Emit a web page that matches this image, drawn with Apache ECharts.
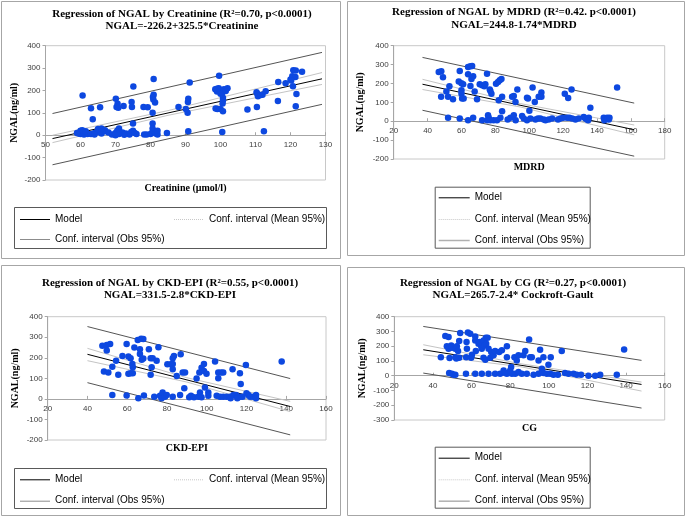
<!DOCTYPE html>
<html><head><meta charset="utf-8">
<script src="https://cdn.jsdelivr.net/npm/echarts@6/dist/echarts.min.js"></script>
<style>html,body{margin:0;padding:0;background:#fff}#c{width:685px;height:516px}</style>
</head><body><div id="c"></div>
<script>
// ---- Data ----
const titles = [
  "Regression of NGAL by Creatinine (R²=0.70, p<0.0001)\nNGAL=-226.2+325.5*Creatinine",
  "Regression of NGAL by MDRD (R²=0.42. p<0.0001)\nNGAL=244.8-1.74*MDRD",
  "Regression of NGAL by CKD-EPI (R²=0.55, p<0.0001)\nNGAL=331.5-2.8*CKD-EPI",
  "Regression of NGAL by CG (R²=0.27, p<0.0001)\nNGAL=265.7-2.4* Cockroft-Gault"
];
const xNames = ["Creatinine (µmol/l)", "MDRD", "CKD-EPI", "CG"];
const yName = "NGAL(ng/ml)";
const xRanges = [[50,130,10],[20,180,20],[20,160,20],[20,160,20]];
const yRanges = [[-200,400,100],[-200,400,100],[-200,400,100],[-300,400,100]];
const legendNames = ["Model","Conf. interval (Mean 95%)","Conf. interval (Obs 95%)"];

const creatPoints = [[60.6,178],[60,5],[60,10],[60,15],[60,20],[59.5,8],[61,3],[61,12],[62,5],[59,10],[60.5,22],[61.5,18],[63,120],[63.5,71],[65.6,125],[63,5],[64,10],[65,15],[65,20],[66,25],[66,8],[67,18],[67,22],[68,12],[64,3],[65,28],[66,30],[70.1,163],[70.6,141],[70.3,126],[70.8,123],[72.3,131],[74.6,149],[74.7,126],[75.1,218],[75,52],[69,3],[70,10],[70.5,20],[71,30],[71,5],[72,12],[73,8],[74,3],[74.5,15],[75,20],[75.5,10],[76,5],[70,0],[72.5,2],[78,126],[79.2,125],[78.2,3],[78.9,3],[80.9,251],[80.7,171],[80.9,181],[80.8,160],[81.3,146],[80.6,100],[80.6,52],[80.6,30],[80,5],[80.5,12],[81,18],[81.5,8],[82,3],[82,20],[84.7,10],[88,126],[90.1,117],[90.6,100],[90.7,149],[90.8,163],[91.2,236],[90.8,18],[99.6,266],[98.5,205],[99,195],[99.5,210],[100,200],[100.5,190],[101,205],[101.5,198],[102,210],[100,185],[99,208],[99.1,117],[100,117],[98.6,119],[100.7,167],[100.7,155],[100.6,142],[100.7,107],[100.5,15],[107.7,115],[110.3,192],[110.7,174],[110.5,185],[111.5,180],[112,181],[110.4,126],[112.9,196],[112.4,18],[116.5,238],[116.4,153],[118.6,232],[120,249],[120.5,263],[120.8,290],[121.5,289],[121.4,260],[120.7,219],[121.7,184],[121.5,129],[123.3,284],[120.2,245]];
const creatModel = [[52,-15],[129,252]];
const creatMeanUp = [[52,0],[85,110],[129,280]];
const creatMeanLo = [[52,-33],[85,89],[129,227]];
const creatObsUp = [[52,97],[129,370]];
const creatObsLo = [[52,-132],[129,138]];

const mdrdPoints = [[46.6,261],[48.1,265],[49.1,233],[48,129],[51.1,157],[52.9,185],[52.1,129],[52.1,19],[55,116],[59,266],[58.4,210],[60,201],[61,196],[60,164],[60,146],[60.4,120],[61.3,120],[59,14],[63.9,287],[65.3,291],[66.3,293],[63.9,249],[65.9,224],[66.9,238],[65.3,187],[63.9,5],[66.9,19],[67.8,157],[69.2,116],[70.8,196],[72.2,190],[73.5,185],[74.1,196],[75.1,252],[76.7,168],[77.1,160],[77.7,146],[72.2,5],[75.7,32],[76.1,18],[75.3,5],[77.1,5],[79,5],[80.4,199],[81.6,208],[82.6,217],[83.6,224],[82,111],[84,129],[84,53],[83,19],[81,5],[87.3,9],[88.9,19],[89.9,129],[90.9,134],[91.9,102],[93,168],[90.9,32],[92,5],[95.8,28],[96.8,14],[98.7,125],[99.3,120],[100.1,55],[102,178],[103.3,102],[98.7,5],[100.7,14],[103.7,9],[105.6,129],[107.2,152],[107.2,129],[105.2,14],[106.6,14],[108.6,9],[109.6,5],[111.5,9],[113.5,14],[121,145],[123,123],[125,168],[122.4,19],[123.7,19],[125.3,14],[117,9],[118.4,14],[120,19],[127.3,9],[129.2,14],[132.2,23],[133.2,14],[134.2,9],[136.1,72],[135.2,19],[134.8,5],[144,19],[145,14],[146,19],[147,9],[144.4,5],[146.5,14],[147.4,19],[151.9,178]];
const mdrdModel = [[37,196],[162,-45]];
const mdrdMeanUp = [[37,222],[95,93],[162,-20]];
const mdrdMeanLo = [[37,168],[95,75],[162,-72]];
const mdrdObsUp = [[37,338],[162,96]];
const mdrdObsLo = [[37,58],[162,-185]];

const ckdPoints = [[47.5,259],[49.7,262],[51.4,267],[49.7,235],[48.3,133],[50.5,128],[52.5,157],[54.4,186],[55.5,117],[52.5,19],[57.6,209],[59.7,267],[60.6,206],[61.7,198],[62.6,170],[62.8,154],[60.6,122],[61.7,125],[62.8,125],[59.7,16],[63.6,250],[65.3,287],[67,293],[68.1,292],[66.4,241],[66.4,219],[67.3,190],[68.1,196],[70.9,241],[71.8,198],[72.3,154],[71.8,117],[72.8,198],[74.8,186],[75.7,251],[65.6,3],[68.4,16],[73.6,11],[76.5,15],[77.3,3],[77.8,31],[79,11],[79.9,19],[80.2,169],[81.9,169],[82.9,198],[83.5,209],[82.9,170],[82.9,144],[84.9,112],[86.9,217],[87.9,128],[89.1,128],[88.7,52],[86.6,19],[82.9,11],[91.2,8],[92.1,15],[93.6,8],[94.9,99],[96.3,128],[97.4,152],[98.6,170],[98.6,136],[99.9,122],[99.1,55],[95.8,11],[96.6,31],[97.4,8],[100.8,31],[100.8,15],[104.2,182],[105.8,128],[105.8,100],[107.2,128],[108.3,128],[105,15],[106.7,11],[108.3,11],[110,11],[111.7,11],[113,144],[113.4,19],[114.7,19],[115.4,11],[116.7,125],[117.1,73],[116.7,11],[118,11],[119.7,165],[120,28],[121,19],[121.8,11],[123.4,11],[124.8,19],[124.8,3],[115.4,3],[112,3],[137.7,182]];
const ckdModel = [[40,217],[142,-37]];
const ckdMeanUp = [[40,246],[90,103],[142,-12]];
const ckdMeanLo = [[40,186],[90,82],[142,-62]];
const ckdObsUp = [[40,352],[142,99]];
const ckdObsLo = [[40,79],[142,-175]];

const cgPoints = [[44.1,126],[47.2,199],[48.1,262],[46.4,269],[48.1,183],[48.6,120],[49.5,205],[49.8,190],[51.6,183],[52.4,199],[53,167],[52.1,117],[53.6,122],[51.6,126],[54.1,289],[53.6,235],[50.7,7],[48.4,18],[49.8,14],[51.6,7],[57.4,228],[57.6,183],[57.2,126],[58.1,293],[59.3,284],[60.2,142],[59.8,122],[61.9,239],[61.9,266],[62.2,167],[63.6,217],[65,199],[64.1,228],[65.3,183],[66.2,239],[66.7,205],[67.6,217],[66.2,122],[67.1,108],[67.4,257],[68.3,257],[68.8,183],[69.7,122],[70.2,160],[71.4,138],[72.2,167],[74.3,160],[75.7,172],[78.3,199],[78.3,126],[57.1,14],[61.9,14],[65.3,14],[68.8,14],[72.2,14],[74.8,14],[76.6,36],[78.3,14],[77.4,18],[80.5,59],[80,36],[82.2,126],[83.4,104],[84.3,138],[86.9,138],[87.8,167],[89.8,246],[90.3,126],[91.2,126],[94.7,104],[95.5,176],[96.4,47],[97.2,126],[99.8,74],[101,126],[106.7,167],[80.9,14],[82.6,14],[84.3,25],[86,14],[88.6,14],[92.1,7],[94.7,14],[97.2,18],[99,14],[100.7,14],[102.4,7],[104.7,7],[108.4,18],[110.2,14],[112.8,14],[114.5,7],[116.7,7],[120.5,0],[124,0],[126.6,7],[135.2,7],[139,178]];
const cgModel = [[35,176],[148,-59]];
const cgMeanUp = [[35,210],[85,82],[148,-43]];
const cgMeanLo = [[35,142],[85,62],[148,-104]];
const cgObsUp = [[35,334],[148,104]];
const cgObsLo = [[35,18],[148,-219]];

const panelPoints = [creatPoints, mdrdPoints, ckdPoints, cgPoints];
const panelLines = [
  [creatModel, creatMeanUp, creatMeanLo, creatObsUp, creatObsLo],
  [mdrdModel, mdrdMeanUp, mdrdMeanLo, mdrdObsUp, mdrdObsLo],
  [ckdModel, ckdMeanUp, ckdMeanLo, ckdObsUp, ckdObsLo],
  [cgModel, cgMeanUp, cgMeanLo, cgObsUp, cgObsLo]
];

// ---- Layout ----
const grids = [
  {left:45.5, top:45.7, width:280, height:134.3},
  {left:393.7, top:45.7, width:271, height:113.3},
  {left:47.7, top:316.7, width:278.3, height:123.3},
  {left:394.3, top:316.7, width:270.4, height:103.3}
];
const titlePos = [[182,8],[514,6],[170,277],[513,277]];
const titleLH = [12,13,12,12];
const xNameGap = [48,41,45,48];
const yNameGap = [26,28,27,27];
const panels = [[1,1,339,257],[347,1,337,254],[1,265,339,250],[347,267,337,248]];

const serif = "'Liberation Serif','Times New Roman',serif";
const sans = "'Liberation Sans',Arial,sans-serif";
const blue = '#0d48e0';
const lineStyles = [
  {color:'#000000', width:1},
  {color:'#c4c4c4', width:1},
  {color:'#c4c4c4', width:1},
  {color:'#555555', width:1},
  {color:'#555555', width:1}
];

// x axis sits at value 0 of the y axis (Excel "crosses at 0")
function zeroOffset(i){
  const r = yRanges[i], g = grids[i];
  return -g.height * (0 - r[0]) / (r[1] - r[0]);
}

const option = {
  animation:false,
  backgroundColor:'#fff',
  title: titles.map((t,i)=>({
    text:t, left:titlePos[i][0], top:titlePos[i][1], textAlign:'center', padding:0,
    textStyle:{fontFamily:serif, fontWeight:'bold', fontSize:11, color:'#000', lineHeight:titleLH[i]}
  })),
  grid: grids.map(g=>Object.assign({show:true, borderColor:'#c8c8c8', borderWidth:1, containLabel:false}, g)),
  xAxis: xRanges.map((r,i)=>({
    type:'value', gridIndex:i, min:r[0], max:r[1], interval:r[2], position:'bottom',
    offset: zeroOffset(i),
    name:xNames[i], nameLocation:'middle', nameGap:xNameGap[i],
    nameTextStyle:{fontFamily:serif, fontWeight:'bold', fontSize:10, color:'#000'},
    axisLine:{onZero:false, lineStyle:{color:'#a6a6a6'}},
    axisTick:{show:true, inside:true, length:3, lineStyle:{color:'#a6a6a6'}},
    axisLabel:{fontFamily:sans, fontSize:8, color:'#404040', margin:6},
    splitLine:{show:false}
  })),
  yAxis: yRanges.map((r,i)=>({
    type:'value', gridIndex:i, min:r[0], max:r[1], interval:r[2],
    name:yName, nameLocation:'middle', nameGap:yNameGap[i], nameRotate:90,
    nameTextStyle:{fontFamily:serif, fontWeight:'bold', fontSize:10, color:'#000'},
    axisLine:{show:true, onZero:false, lineStyle:{color:'#a6a6a6'}},
    axisTick:{show:true, length:3, lineStyle:{color:'#a6a6a6'}},
    axisLabel:{fontFamily:sans, fontSize:8, color:'#404040', margin:5},
    splitLine:{show:false}
  })),
  series: [],
  graphic: []
};

panelLines.forEach((set,i)=>{
  set.forEach((d,k)=>{
    option.series.push({
      type:'line', xAxisIndex:i, yAxisIndex:i, data:d, showSymbol:false, silent:true,
      name: legendNames[k===0?0:(k<3?1:2)],
      lineStyle:lineStyles[k], z:2
    });
  });
  option.series.push({
    type:'scatter', xAxisIndex:i, yAxisIndex:i, data:panelPoints[i],
    symbolSize:6.5, itemStyle:{color:blue, opacity:1}, z:3
  });
});

// panel borders
panels.forEach(p=>{
  option.graphic.push({type:'rect', shape:{x:p[0]+0.5,y:p[1]+0.5,width:p[2],height:p[3]},
    style:{fill:'none', stroke:'#a6a6a6', lineWidth:1}, z:0});
});

// legends
function legendLines(k){
  if(k===0) return {stroke:'#000', lineWidth:1};
  if(k===1) return {stroke:'#c8c8c8', lineWidth:1, lineDash:[1,1]};
  return {stroke:'#8c8c8c', lineWidth:1};
}
function addLegendWide(x,y,w,h,r1,r2){
  option.graphic.push({type:'rect', shape:{x:x+0.5,y:y+0.5,width:w,height:h}, style:{fill:'#fff', stroke:'#595959', lineWidth:1}, z:5});
  const items=[[x+6,r1,0],[x+160,r1,1],[x+6,r2,2]];
  items.forEach(([lx,ly,k])=>{
    option.graphic.push({type:'line', shape:{x1:lx,y1:ly+0.5,x2:lx+30,y2:ly+0.5}, style:legendLines(k), z:6});
    option.graphic.push({type:'text', x:lx+35, y:ly, style:{text:legendNames[k], fontFamily:sans, fontSize:10, fill:'#000', verticalAlign:'middle'}, z:6});
  });
}
function addLegendTall(x,y,w,h,rows){
  option.graphic.push({type:'rect', shape:{x:x+0.5,y:y+0.5,width:w,height:h}, style:{fill:'#fff', stroke:'#595959', lineWidth:1}, z:5});
  rows.forEach((ry,k)=>{
    const st = legendLines(k);
    if(k===2){st.stroke='#b0b0b0'; st.lineWidth=1.5;}
    option.graphic.push({type:'line', shape:{x1:x+4,y1:ry+0.5,x2:x+35,y2:ry+0.5}, style:st, z:6});
    option.graphic.push({type:'text', x:x+40, y:ry, style:{text:legendNames[k], fontFamily:sans, fontSize:10, fill:'#000', verticalAlign:'middle'}, z:6});
  });
}
addLegendWide(14,207,312,41,219,239);
addLegendTall(434.7,186.7,155,61,[197.3,219,240]);
addLegendWide(14,468,312,40,479.3,500.7);
addLegendTall(434.7,446.7,155,61,[457.7,479.3,500.7]);

const chart = echarts.init(document.getElementById('c'), null, {renderer:'canvas'});
chart.setOption(option);
</script>
</body></html>
